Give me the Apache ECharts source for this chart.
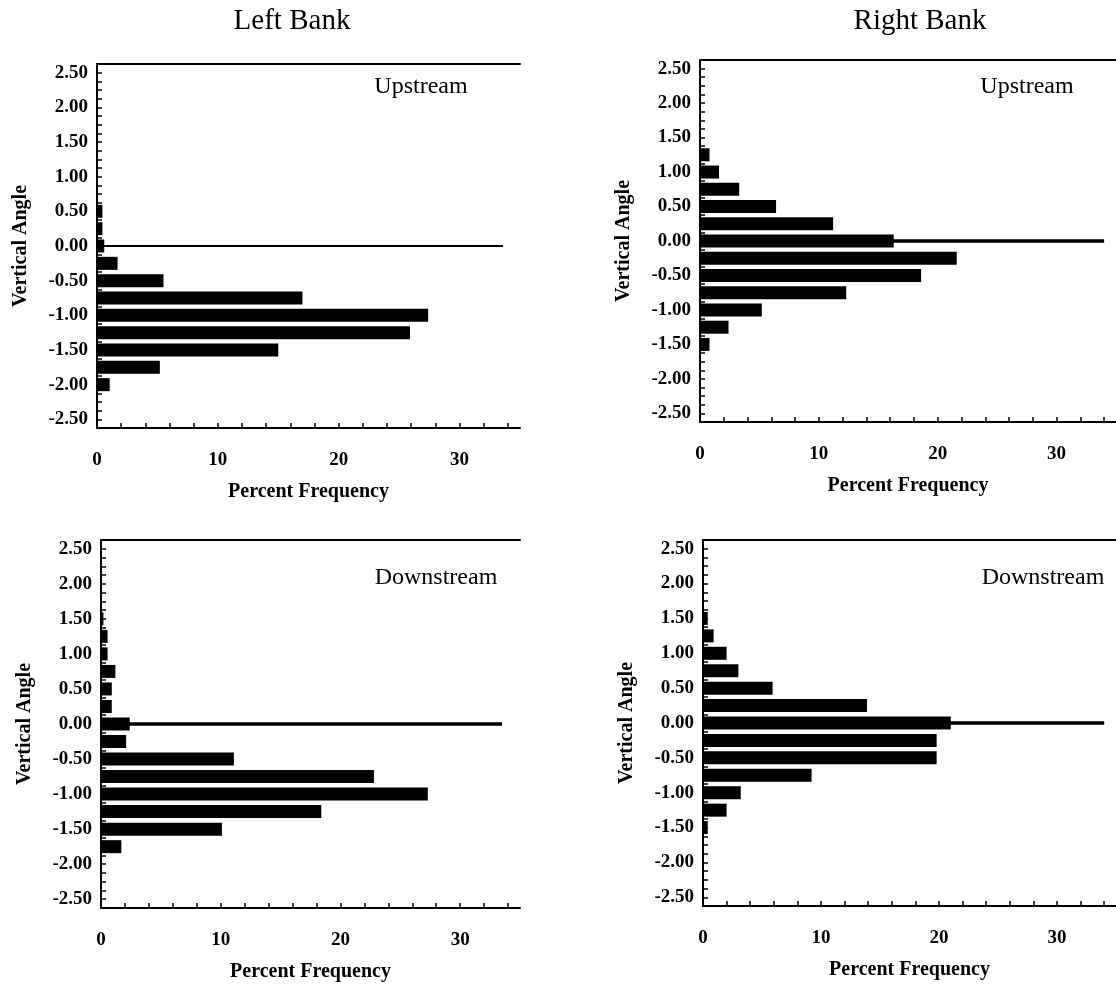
<!DOCTYPE html>
<html>
<head>
<meta charset="utf-8">
<script src="https://cdn.jsdelivr.net/npm/echarts@6/dist/echarts.min.js"></script>
<style>
  html, body { margin: 0; padding: 0; background: #fff; }
  #chart { width: 1116px; height: 985px; }
</style>
</head>
<body>
<div id="chart"></div>
<script>
// Vertical-angle bins (centres, bottom to top)
const angleBins = ['-2.50', '-2.25', '-2.00', '-1.75', '-1.50', '-1.25', '-1.00', '-0.75', '-0.50', '-0.25',
                   '0.00', '0.25', '0.50', '0.75', '1.00', '1.25', '1.50', '1.75', '2.00', '2.25', '2.50'];

// Percent frequency per bin
const leftUpstream    = [0, 0, 1.05, 5.2, 15.0, 25.9, 27.4, 17.0, 5.5, 1.7, 0.6, 0.45, 0.45, 0, 0, 0, 0, 0, 0, 0, 0];
const rightUpstream   = [0, 0, 0, 0, 0.8, 2.4, 5.2, 12.3, 18.6, 21.6, 16.3, 11.2, 6.4, 3.3, 1.6, 0.8, 0, 0, 0, 0, 0];
const leftDownstream  = [0, 0, 0, 1.7, 10.1, 18.4, 27.3, 22.8, 11.1, 2.1, 2.4, 0.9, 0.9, 1.2, 0.55, 0.55, 0.2, 0, 0, 0, 0];
const rightDownstream = [0, 0, 0, 0, 0.4, 2.0, 3.2, 9.2, 19.8, 19.8, 21.0, 13.9, 5.9, 3.0, 2.0, 0.9, 0.4, 0, 0, 0, 0];

// Reference line along 0.00 (end, percent frequency)
const zeroLineEnd = [33.6, 34.0, 33.5, 34.0];

const bankTitles = ['Left Bank', 'Right Bank'];
const reachNames = ['Upstream', 'Upstream', 'Downstream', 'Downstream'];
const xTitle = 'Percent Frequency';
const yTitle = 'Vertical Angle';

const SERIF = '"Liberation Serif", "Times New Roman", serif';

const panels = [
  { data: leftUpstream,    grid: { left: 97,  top: 64,  width: 423, height: 364 }, lw: 2,   tag: [421, 87] },
  { data: rightUpstream,   grid: { left: 700, top: 60,  width: 422, height: 362 }, lw: 3.5, tag: [1027, 87] },
  { data: leftDownstream,  grid: { left: 101, top: 540, width: 419, height: 368 }, lw: 3.5, tag: [436, 578] },
  { data: rightDownstream, grid: { left: 703, top: 540, width: 420, height: 366 }, lw: 3.5, tag: [1043, 578] }
];

const grids = [], xAxes = [], yAxes = [], series = [];

panels.forEach((p, i) => {
  grids.push(Object.assign({ containLabel: false }, p.grid));

  // bottom value axis
  xAxes.push({
    type: 'value', gridIndex: i, position: 'bottom', min: 0, max: 35, interval: 2,
    axisLine: { show: true, lineStyle: { color: '#000', width: 2 } },
    axisTick: { show: true, inside: true, length: 5, lineStyle: { color: '#000', width: 1.5 } },
    splitLine: { show: false },
    axisLabel: {
      showMaxLabel: false, margin: 23,
      formatter: v => (v % 10 === 0 ? String(v) : ''),
      color: '#000', fontFamily: SERIF, fontWeight: 'bold', fontSize: 19
    },
    name: xTitle, nameLocation: 'middle', nameGap: 54,
    nameTextStyle: { color: '#000', fontFamily: SERIF, fontWeight: 'bold', fontSize: 20 }
  });
  // top frame line
  xAxes.push({
    type: 'value', gridIndex: i, position: 'top', min: 0, max: 35,
    axisLine: { show: true, lineStyle: { color: '#000', width: 2 } },
    axisTick: { show: false }, axisLabel: { show: false }, splitLine: { show: false }
  });

  // category axis with ticks on bin boundaries
  yAxes.push({
    type: 'category', gridIndex: i, position: 'left', data: angleBins, boundaryGap: true,
    axisLine: { show: true, lineStyle: { color: '#000', width: 2 } },
    axisTick: { show: true, inside: true, interval: 0, alignWithLabel: false, length: 5,
                lineStyle: { color: '#000', width: 1.5 } },
    axisLabel: { interval: 1, margin: 9, color: '#000', fontFamily: SERIF, fontWeight: 'bold', fontSize: 19 },
    splitLine: { show: false },
    name: yTitle, nameLocation: 'middle', nameGap: 66,
    nameTextStyle: { color: '#000', fontFamily: SERIF, fontWeight: 'bold', fontSize: 20 }
  });
  // companion axis: ticks on bin centres
  yAxes.push({
    type: 'category', gridIndex: i, position: 'left', data: angleBins, boundaryGap: true,
    axisLine: { show: false },
    axisTick: { show: true, inside: true, interval: 0, alignWithLabel: true, length: 5,
                lineStyle: { color: '#000', width: 1.5 } },
    axisLabel: { show: false }, splitLine: { show: false }
  });

  series.push({
    type: 'bar', xAxisIndex: i * 2, yAxisIndex: i * 2,
    data: p.data, barWidth: 13,
    itemStyle: { color: '#000' },
    markLine: {
      silent: true, symbol: ['none', 'none'], label: { show: false },
      lineStyle: { color: '#000', width: p.lw, type: 'solid' },
      data: [[{ coord: [0, '0.00'] }, { coord: [zeroLineEnd[i], '0.00'] }]]
    }
  });
});

const texts = [
  { text: bankTitles[0], x: 292, y: 21, size: 29 },
  { text: bankTitles[1], x: 920, y: 21, size: 29 }
].concat(panels.map((p, i) => ({ text: reachNames[i], x: p.tag[0], y: p.tag[1], size: 24 })));

const graphic = texts.map(t => ({
  type: 'text', x: t.x, y: t.y, silent: true,
  style: { text: t.text, fill: '#000', fontFamily: SERIF, fontSize: t.size,
           align: 'center', verticalAlign: 'middle' }
}));

const chart = echarts.init(document.getElementById('chart'), null, { renderer: 'canvas' });
chart.setOption({
  animation: false,
  backgroundColor: '#fff',
  grid: grids,
  xAxis: xAxes,
  yAxis: yAxes,
  series: series,
  graphic: graphic
});
</script>
</body>
</html>
